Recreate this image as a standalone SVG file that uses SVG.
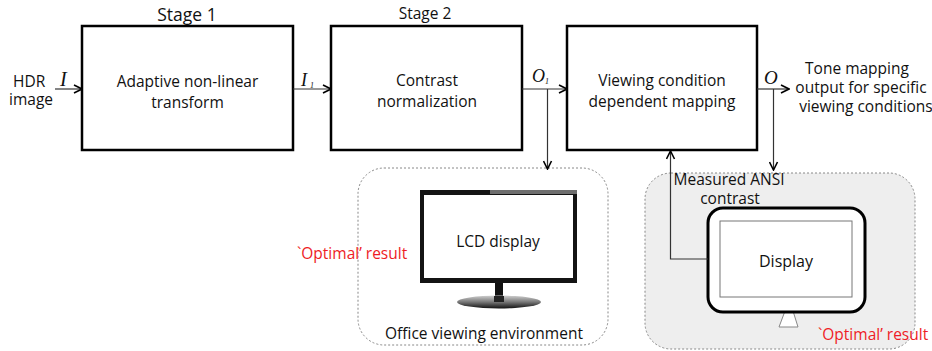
<svg xmlns="http://www.w3.org/2000/svg" width="932" height="351" viewBox="0 0 932 351">
  <defs>
    <marker id="arr" viewBox="0 0 10 10" refX="9" refY="5" markerWidth="10" markerHeight="10" markerUnits="userSpaceOnUse" orient="auto">
      <path d="M1,1 L9,5 L1,9" fill="none" stroke="#000" stroke-width="1.6"/>
    </marker>
    <linearGradient id="baseGrad" x1="0" y1="0" x2="0" y2="1">
      <stop offset="0" stop-color="#d0d0d0"/>
      <stop offset="0.5" stop-color="#777"/>
      <stop offset="1" stop-color="#111"/>
    </linearGradient>
    <style>
      .t { font-family: "Open Sans", "Noto Sans", sans-serif; fill: #111; font-size: 15.5px; }
      .red { font-family: "Open Sans", "Noto Sans", sans-serif; fill: #ee1c25; font-size: 15.5px; }
      .m { font-family: "Liberation Serif", "DejaVu Serif", serif; font-style: italic; fill: #111; }
      .box { fill: #fff; stroke: #000; stroke-width: 2.5; }
      .line { fill: none; stroke: #333; stroke-width: 1.2; }
      .env { stroke: #888; stroke-width: 1; stroke-dasharray: 2 2; }
    </style>
  </defs>

  <!-- environments -->
  <g id="office-env">
    <rect class="env" x="358" y="168" width="250" height="177" rx="26" fill="#fff"/>
    <text class="t" x="484" y="339" text-anchor="middle">Office viewing environment</text>
  </g>
  <g id="measured-env">
    <rect class="env" x="645" y="173" width="270" height="176" rx="26" fill="#eeeeee"/>
  </g>

  <!-- processing stages -->
  <g id="stage1">
    <text class="t" x="187" y="21" style="font-size:17.5px" text-anchor="middle">Stage 1</text>
    <rect class="box" x="82" y="26" width="211" height="124"/>
    <text class="t" x="187.5" y="87" text-anchor="middle">Adaptive non-linear</text>
    <text class="t" x="187.5" y="108" text-anchor="middle">transform</text>
  </g>
  <g id="stage2">
    <text class="t" x="425" y="19" style="font-size:15.5px" text-anchor="middle">Stage 2</text>
    <rect class="box" x="331" y="26" width="191" height="124"/>
    <text class="t" x="427" y="86" text-anchor="middle">Contrast</text>
    <text class="t" x="427" y="107" text-anchor="middle">normalization</text>
  </g>
  <g id="stage3">
    <rect class="box" x="567" y="26" width="190" height="124"/>
    <text class="t" x="662" y="86" text-anchor="middle">Viewing condition</text>
    <text class="t" x="662" y="107" text-anchor="middle">dependent mapping</text>
  </g>

  <!-- input and output labels -->
  <g id="input">
    <text class="t" x="13" y="87">HDR</text>
    <text class="t" x="9" y="105">image</text>
  </g>
  <g id="output">
    <text class="t" x="857" y="74" text-anchor="middle">Tone mapping</text>
    <text class="t" x="861" y="93" text-anchor="middle">output for specific</text>
    <text class="t" x="866" y="112" text-anchor="middle">viewing conditions</text>
  </g>

  <!-- LCD monitor -->
  <g id="lcd-display">
    <rect x="420" y="190" width="157" height="93" fill="#141414"/>
    <rect x="490" y="190" width="87" height="4" fill="#6e6e6e"/>
    <rect x="424" y="195" width="149" height="83" fill="#fff"/>
    <rect x="495" y="283" width="8" height="16" fill="#111"/>
    <ellipse cx="499" cy="302" rx="42" ry="6.5" fill="url(#baseGrad)"/>
    <rect x="494" y="296" width="10" height="6" fill="#222"/>
    <text class="t" x="498" y="247" text-anchor="middle">LCD display</text>
  </g>
  <text class="red" x="297" y="259">`Optimal’ result</text>

  <!-- measured display -->
  <g id="display">
    <path d="M785,311 L793,311 L798,327 L779,327 Z" fill="#fff" stroke="#888" stroke-width="1"/>
    <rect x="708" y="208" width="157" height="104" rx="15" fill="#fff" stroke="#000" stroke-width="3"/>
    <rect x="720" y="221" width="132" height="76" fill="#fff" stroke="#777" stroke-width="1"/>
    <text class="t" x="786" y="267" style="font-size:16px" text-anchor="middle">Display</text>
  </g>
  <text class="t" x="729" y="185" text-anchor="middle">Measured ANSI</text>
  <text class="t" x="730" y="204" text-anchor="middle">contrast</text>
  <text class="red" x="818" y="340">`Optimal’ result</text>

  <!-- connectors -->
  <g id="connectors">
    <line class="line" x1="55" y1="89" x2="82" y2="89" marker-end="url(#arr)"/>
    <line class="line" x1="293" y1="89" x2="331" y2="89" marker-end="url(#arr)"/>
    <line class="line" x1="522" y1="89" x2="567" y2="89" marker-end="url(#arr)"/>
    <line class="line" x1="757" y1="89" x2="789" y2="89" marker-end="url(#arr)"/>
    <line class="line" x1="547.5" y1="89" x2="547.5" y2="169" stroke-width="1" marker-end="url(#arr)"/>
    <line class="line" x1="773.5" y1="89" x2="773.5" y2="170" stroke-width="1" marker-end="url(#arr)"/>
    <polyline class="line" points="708,259 670.5,259 670.5,151" stroke-width="1" marker-end="url(#arr)"/>
  </g>

  <!-- signal symbols -->
  <g id="symbols">
    <text class="m" x="60" y="86" font-size="20">I</text>
    <text class="m" x="301" y="86" font-size="18">I</text>
    <text class="m" x="310" y="88" font-size="8" font-style="normal">1</text>
    <text class="m" x="532" y="82" font-size="18">O</text>
    <text class="m" x="545" y="84" font-size="8" font-style="normal">1</text>
    <text class="m" x="764" y="84" font-size="19">O</text>
  </g>
</svg>
